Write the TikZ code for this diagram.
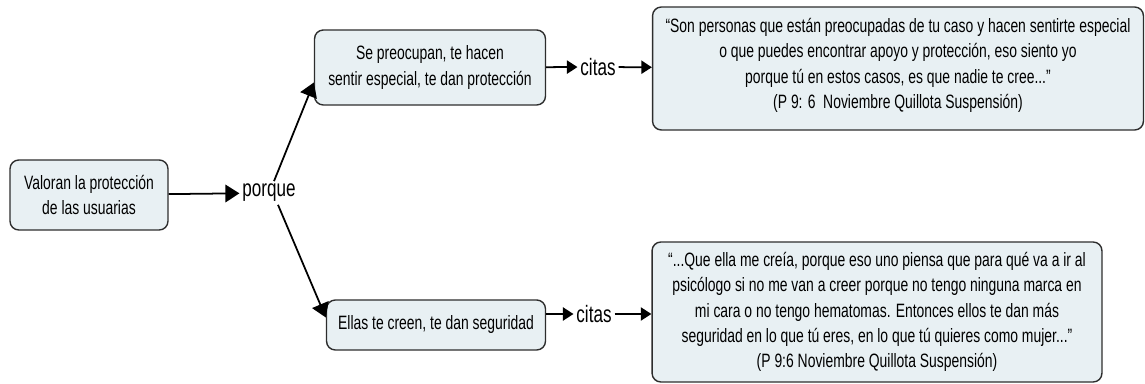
\documentclass[tikz,border=0pt]{standalone}
\usepackage{fontspec}
\setmainfont{Liberation Sans}[FakeStretch=0.72]
\usetikzlibrary{arrows.meta}
\definecolor{cajafondo}{RGB}{232,240,243}
\definecolor{borde}{RGB}{45,45,45}
\tikzset{
  caja/.style={draw=borde,fill=cajafondo,line width=0.8pt,rounded corners=5pt,
    align=center,inner sep=0pt,font=\fontsize{11}{14.4}\selectfont},
  enlace/.style={font=\fontsize{13.5}{15}\selectfont,inner sep=1.5pt},
  flecha/.style={-{Triangle[length=8pt,width=10pt]},line width=1pt},
  flechita/.style={-{Triangle[length=6pt,width=7.5pt]},line width=1pt}
}
\begin{document}
\begin{tikzpicture}[x=0.02cm,y=-0.02cm]
  \useasboundingbox (0,0) rectangle (1145,384);
  % concepto
  \node[caja,minimum width=3.16cm,minimum height=1.4cm] (valoran) at (89,195)
    {Valoran la protección\\de las usuarias};
  \node[enlace] (porque) at (269,193) {porque};
  % ramas
  \node[caja,minimum width=4.62cm,minimum height=1.5cm] (preocupan) at (430,67.5)
    {Se preocupan, te hacen\\sentir especial, te dan protección};
  \node[caja,minimum width=4.38cm,minimum height=1cm] (creen) at (436,325)
    {Ellas te creen, te dan seguridad};
  % citas
  \node[enlace] (citasA) at (598,67) {citas};
  \node[enlace] (citasB) at (594,314) {citas};
  \node[caja,minimum width=9.82cm,minimum height=2.46cm] (citaA) at (898,68.5)
    {“Son personas que están preocupadas de tu caso y hacen sentirte especial\\
     o que puedes encontrar apoyo y protección, eso siento yo\\
     porque tú en estos casos, es que nadie te cree...”\\
     (P 9: 6\ \ Noviembre Quillota Suspensión)\\[-0.3cm]};
  \node[caja,minimum width=9cm,minimum height=2.8cm] (citaB) at (877,312)
    {“...Que ella me creía, porque eso uno piensa que para qué va a ir al\\
     psicólogo si no me van a creer porque no tengo ninguna marca en\\
     mi cara o no tengo hematomas. Entonces ellos te dan más\\
     seguridad en lo que tú eres, en lo que tú quieres como mujer...”\\
     (P 9:6 Noviembre Quillota Suspensión)};
  % flechas
  \draw[flecha] (valoran) -- (porque);
  \draw[flecha] ([xshift=0.1cm]porque.north) -- ([yshift=-0.3cm]preocupan.west);
  \draw[flecha] ([xshift=0.18cm]porque.south) -- ([yshift=0.15cm]creen.west);
  \draw[flechita] (preocupan) -- (citasA);
  \draw[flechita] (citasA) -- (citaA);
  \draw[flechita] (creen.east |- citasB) -- (citasB);
  \draw[flechita] (citasB) -- (citasB -| citaB.west);
\end{tikzpicture}
\end{document}
